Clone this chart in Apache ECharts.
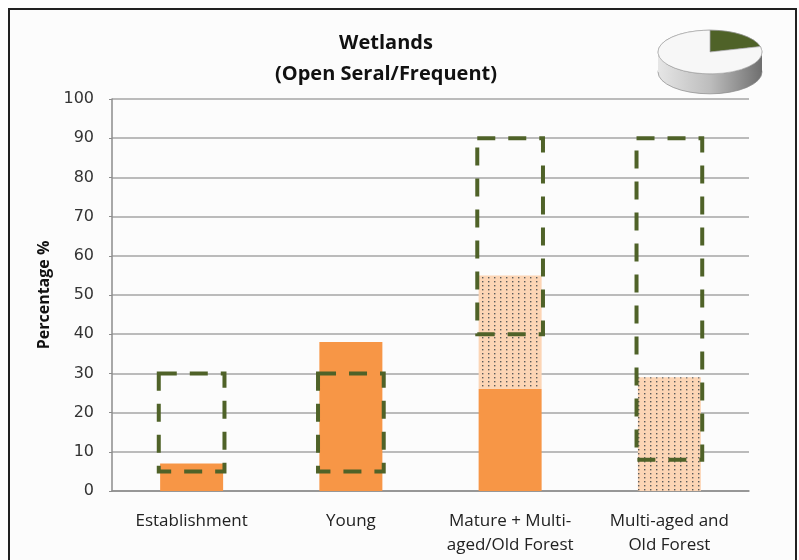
<!DOCTYPE html>
<html><head><meta charset="utf-8">
<script src="https://cdn.jsdelivr.net/npm/echarts@6/dist/echarts.min.js"></script>
<style>html,body{margin:0;padding:0;background:#fff}#c{width:799px;height:560px}</style>
</head><body><div id="c"></div>
<script>
const categories = ['Establishment', 'Young', 'Mature + Multi-\naged/Old Forest', 'Multi-aged and\nOld Forest'];
const currentSolid = [7, 38, 26, 0];
const currentDotted = [0, 0, 29, 29];
const rangeLow = [5, 5, 40, 8];
const rangeHigh = [30, 30, 90, 90];
const yTicks = [0, 10, 20, 30, 40, 50, 60, 70, 80, 90, 100];
const pieShares = [21, 79];

const pc = document.createElement('canvas');
pc.width = 6; pc.height = 4;
const g = pc.getContext('2d');
g.fillStyle = '#fcd5b5'; g.fillRect(0, 0, 6, 4);
g.fillStyle = '#5a5a5a'; g.fillRect(2, 1, 1.4, 1.4);

const chart = echarts.init(document.getElementById('c'), null, {renderer: 'canvas'});
const dash = '#4f6228';

chart.setOption({
  animation: false,
  backgroundColor: '#ffffff',
  graphic: [
    {type: 'rect', z: -10, shape: {x: 9, y: 9, width: 787, height: 570}, style: {fill: '#fcfcfc', stroke: '#222', lineWidth: 2}}
  ],
  title: {
    text: 'Wetlands\n(Open Seral/Frequent)',
    left: 381, top: 23, textAlign: 'center',
    textStyle: {fontFamily: 'Open Sans', fontWeight: 'bold', fontSize: 20, color: '#111', lineHeight: 31}
  },
  grid: {left: 112, right: 50, top: 99, bottom: 69},
  xAxis: {
    type: 'category', data: categories,
    axisLine: {lineStyle: {color: '#8c8c8c', width: 1.5}},
    axisTick: {show: false},
    axisLabel: {fontFamily: 'Open Sans', fontSize: 17, color: '#222', margin: 18, lineHeight: 24, interval: 0}
  },
  yAxis: {
    type: 'value', min: 0, max: 100, interval: 10,
    name: 'Percentage %', nameLocation: 'middle', nameGap: 60,
    nameTextStyle: {fontFamily: 'Open Sans', fontWeight: 'bold', fontSize: 16, color: '#111'},
    axisLine: {show: true, lineStyle: {color: '#8c8c8c', width: 1.5}},
    axisTick: {show: true, length: 3, lineStyle: {color: '#8c8c8c'}},
    splitLine: {lineStyle: {color: '#a6a6a6', width: 1.5}},
    axisLabel: {fontFamily: 'DejaVu Sans', fontSize: 16, color: '#333', margin: 18,
      formatter: v => yTicks.includes(v) ? String(v) : ''}
  },
  series: [
    {type: 'bar', stack: 'cur', data: currentSolid, barWidth: 63,
      itemStyle: {color: '#f79646'}, z: 2},
    {type: 'bar', stack: 'cur', data: currentDotted, barWidth: 63,
      itemStyle: {color: {image: pc, repeat: 'repeat'}}, z: 2},
    {type: 'custom', z: 5,
      data: categories.map((c, i) => [i, rangeLow[i], rangeHigh[i]]),
      encode: {x: 0, y: [1, 2]},
      renderItem: function (params, api) {
        const i = api.value(0);
        const top = api.coord([i, api.value(2)]);
        const bot = api.coord([i, api.value(1)]);
        const w = api.size([1, 0])[0] * 0.4 + 2;
        return {
          type: 'rect',
          shape: {x: top[0] - w / 2, y: top[1], width: w, height: bot[1] - top[1]},
          style: {fill: null, stroke: dash, lineWidth: 4, lineDash: [18, 13]}
        };
      }
    },
    {type: 'custom', coordinateSystem: 'none', z: 10, data: [0],
      renderItem: function (params, api) {
        const r = 52, sy = 0.42, th = 20 / sy;
        const total = pieShares.reduce((a, b) => a + b, 0);
        let a0 = -Math.PI / 2;
        const cols = ['#4f6228', '#f7f7f7'];
        const sectors = pieShares.map((v, k) => {
          const a1 = a0 + 2 * Math.PI * v / total;
          const s = {type: 'sector', shape: {cx: 0, cy: 0, r: r, startAngle: a0, endAngle: a1, clockwise: true},
            style: {fill: cols[k], stroke: '#9a9a9a', lineWidth: 0.8}};
          a0 = a1;
          return s;
        });
        const grad = new echarts.graphic.LinearGradient(0, 0, 1, 0, [
          {offset: 0, color: '#e6e6e6'}, {offset: 0.5, color: '#bdbdbd'}, {offset: 1, color: '#6e6e6e'}]);
        return {
          type: 'group', x: 710, y: 52, scaleY: sy,
          children: [
            {type: 'circle', shape: {cx: 0, cy: th, r: r}, style: {fill: grad, stroke: '#8a8a8a', lineWidth: 1}},
            {type: 'rect', shape: {x: -r, y: 0, width: 2 * r, height: th}, style: {fill: grad}},
            {type: 'circle', shape: {cx: 0, cy: 0, r: r}, style: {fill: '#f7f7f7', stroke: '#9a9a9a', lineWidth: 1}}
          ].concat(sectors)
        };
      }
    }
  ]
});
</script></body></html>
